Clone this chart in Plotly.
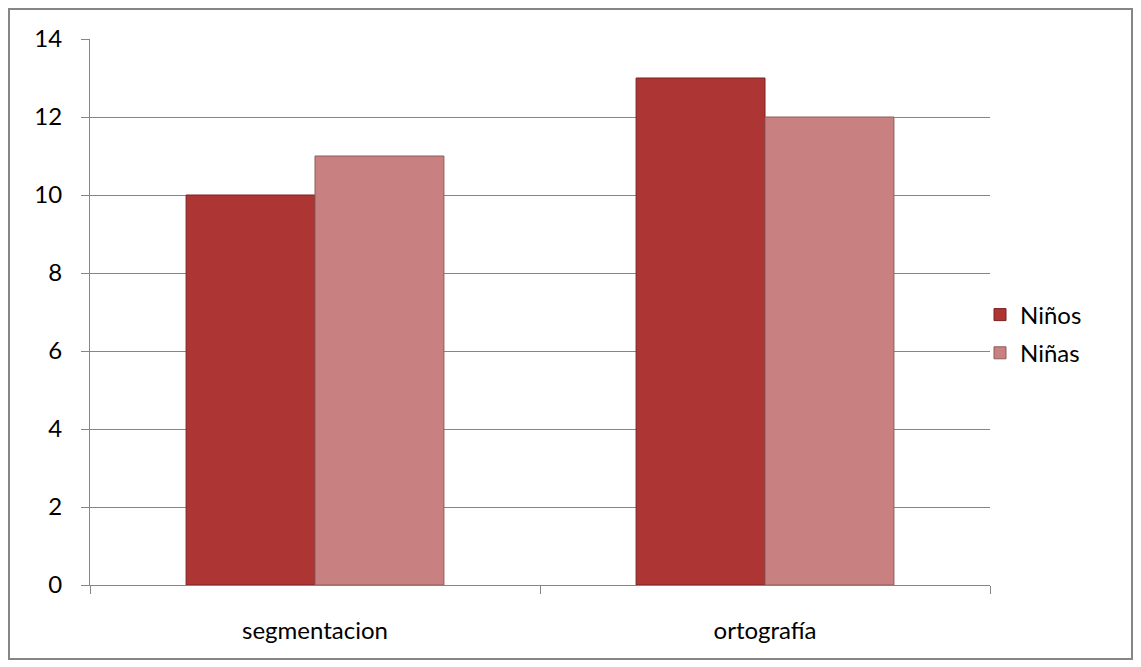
import plotly.graph_objects as go

categories = ["segmentacion", "ortografía"]
ninos = [10, 13]
ninas = [11, 12]
y_ticks = [0, 2, 4, 6, 8, 10, 12, 14]

# page is offset by 8px in the browser; figure spans the outer chart border
W, H = 1125, 652
L, T = 82, 31
R, B = W - 982, H - 577
pw, ph = W - L - R, H - T - B

FONT = "Lato"
GRID = "#868686"
FS = 24

fig = go.Figure()
fig.add_trace(go.Bar(
    x=categories, y=ninos, name="Niños", legendgroup="a",
    marker=dict(color="#ad3533", line=dict(color="#7a2222", width=1)),
))
fig.add_trace(go.Bar(
    x=categories, y=ninas, name="Niñas", legendgroup="b",
    marker=dict(color="#c98080", line=dict(color="#8f5a5a", width=1)),
))

fig.update_layout(
    width=W, height=H,
    margin=dict(l=L, r=R, t=T, b=B, autoexpand=False),
    paper_bgcolor="white", plot_bgcolor="white",
    barmode="group", bargap=0.427, bargroupgap=0,
    font=dict(family=FONT, size=FS, color="#000000"),
    showlegend=True,
    legend=dict(
        x=(972 - L) / pw, xanchor="left",
        y=(H - B - 326) / ph, yanchor="middle",
        font=dict(family=FONT, size=FS),
        traceorder="grouped", tracegroupgap=4, itemwidth=30,
        bgcolor="rgba(0,0,0,0)",
    ),
    xaxis=dict(
        type="category", showgrid=False,
        showline=True, linecolor=GRID, linewidth=1,
        ticks="outside", ticklen=8, tickcolor=GRID, tickson="boundaries",
        ticklabelstandoff=24,
        tickfont=dict(family=FONT, size=FS),
    ),
    yaxis=dict(
        range=[0, 14], tickvals=y_ticks,
        showgrid=True, gridcolor=GRID, gridwidth=1,
        showline=True, linecolor=GRID, linewidth=1,
        ticks="outside", ticklen=8, tickcolor=GRID,
        ticklabelstandoff=14,
        zeroline=False,
        tickfont=dict(family=FONT, size=FS),
    ),
    shapes=[dict(
        type="rect", xref="paper", yref="paper",
        x0=(1 - L) / pw, x1=(W - 1 - L) / pw,
        y0=(H - B - (H - 1)) / ph, y1=(H - B - 1) / ph,
        line=dict(color=GRID, width=2), fillcolor="rgba(0,0,0,0)",
        layer="below",
    )],
)

fig.write_html("out.html")
